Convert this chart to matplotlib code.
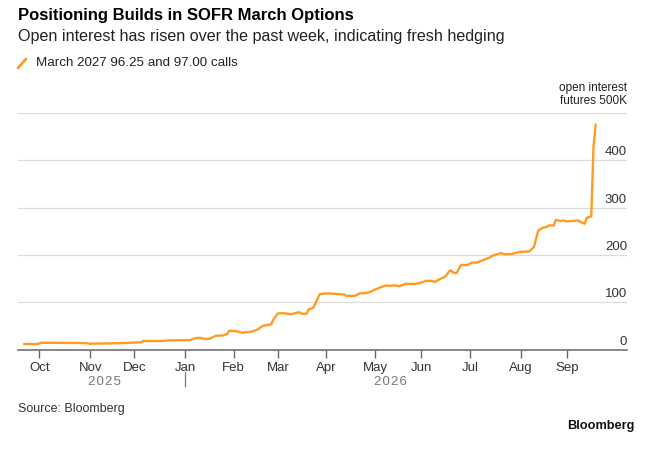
import numpy as np
import matplotlib
matplotlib.use("Agg")
import matplotlib.pyplot as plt
import matplotlib.transforms as mtransforms
from matplotlib.lines import Line2D

plt.rcParams["font.family"] = ["Liberation Sans", "DejaVu Sans"]

# Open interest, March 2027 96.25 and 97.00 calls (thousands of futures)
dates = [
    "2025-09-22", "2025-09-30", "2025-10-02", "2025-10-30", "2025-11-03",
    "2025-11-25", "2025-11-27", "2025-12-04", "2025-12-05", "2025-12-17",
    "2025-12-23", "2026-01-05", "2026-01-06", "2026-01-08", "2026-01-12",
    "2026-01-14", "2026-01-16", "2026-01-21", "2026-01-26", "2026-01-28",
    "2026-01-29", "2026-02-03", "2026-02-06", "2026-02-09", "2026-02-11",
    "2026-02-13", "2026-02-17", "2026-02-19", "2026-02-23", "2026-02-25",
    "2026-02-26", "2026-03-02", "2026-03-05", "2026-03-10", "2026-03-13",
    "2026-03-16", "2026-03-17", "2026-03-19", "2026-03-20", "2026-03-24",
    "2026-03-25", "2026-03-27", "2026-03-31", "2026-04-03", "2026-04-13",
    "2026-04-14", "2026-04-20", "2026-04-22", "2026-04-27", "2026-04-29",
    "2026-05-01", "2026-05-06", "2026-05-08", "2026-05-12", "2026-05-14",
    "2026-05-18", "2026-05-21", "2026-05-27", "2026-05-29", "2026-06-03",
    "2026-06-08", "2026-06-09", "2026-06-11", "2026-06-16", "2026-06-18",
    "2026-06-22", "2026-06-23", "2026-06-25", "2026-06-30", "2026-07-02",
    "2026-07-06", "2026-07-10", "2026-07-14", "2026-07-15", "2026-07-21",
    "2026-07-23", "2026-07-28", "2026-07-31", "2026-08-07", "2026-08-11",
    "2026-08-13", "2026-08-17", "2026-08-18", "2026-08-20", "2026-08-24",
    "2026-08-25", "2026-08-27", "2026-08-28", "2026-09-01", "2026-09-08",
    "2026-09-10", "2026-09-11", "2026-09-14", "2026-09-16", "2026-09-17",
    "2026-09-18",
]
open_interest = [
    12, 12, 14.7, 14, 12.6,
    14, 14.7, 15.5, 18.3, 18.3,
    19.8, 20, 21.9, 24.6, 24.8,
    22.5, 23, 29.5, 30, 33,
    40, 39.3, 35.8, 36.6, 37,
    39.4, 43, 50, 52, 53.5,
    64, 76.6, 77, 74.5, 78.7,
    78.7, 75.8, 76, 85, 88.4,
    97.7, 117.3, 118.7, 118.7, 116.6,
    113.7, 113.7, 119, 119.5, 122.5,
    127, 132.6, 135.6, 135, 136,
    134, 139, 139, 140.4, 145.3,
    145.3, 143, 148, 155, 167.8,
    162, 162, 179, 179, 184,
    184, 191, 194.5, 198, 204,
    201.5, 202, 206, 207.8, 216.8,
    252, 257.7, 258, 262.5, 262.5,
    274.5, 271.6, 273, 271, 273,
    268, 266, 278.7, 281.5, 428,
    476,
]

month_starts = ["2025-10-01", "2025-11-01", "2025-12-01", "2026-01-01",
                "2026-02-01", "2026-03-01", "2026-04-01", "2026-05-01",
                "2026-06-01", "2026-07-01", "2026-08-01", "2026-09-01"]
month_labels = ["Oct", "Nov", "Dec", "Jan", "Feb", "Mar", "Apr", "May",
                "Jun", "Jul", "Aug", "Sep"]
year_labels = ["2025", "2026"]
y_ticks = [0, 100, 200, 300, 400]

ORANGE = "#FF9B21"
BASE = "2025-10-01"


def bday_pos(d):
    """Position on a trading-day axis (weekends removed)."""
    return int(np.busday_count(BASE, d))


x = [bday_pos(d) for d in dates]
month_pos = [bday_pos(np.busday_offset(m, 0, roll="forward")) for m in month_starts]
jan_pos = month_pos[3]

fig = plt.figure(figsize=(6.55, 4.5), dpi=100)
ax = fig.add_axes([0.0275, 0.2229, 0.9298, 0.5260])

ax.plot(x, open_interest, color=ORANGE, linewidth=1.7, solid_joinstyle="round",
        solid_capstyle="round", zorder=3)

ax.set_xlim(-9.7, 266.2)
ax.set_ylim(0, 500)

# grid lines
for v in [100, 200, 300, 400, 500]:
    ax.axhline(v, color="#dcdcdc", linewidth=0.9, zorder=1)

for s in ["top", "right", "left"]:
    ax.spines[s].set_visible(False)
ax.spines["bottom"].set_color("#666666")
ax.spines["bottom"].set_linewidth(1.1)
ax.spines["bottom"].set_zorder(4)

ax.set_yticks([])
ax.set_xticks(month_pos)
ax.set_xticklabels(month_labels)
ax.tick_params(axis="x", length=6, width=1, color="#666666", pad=2.5,
               labelsize=9.5, labelcolor="#333333")

# y labels sitting above the grid lines, right aligned
for v in y_ticks:
    ax.annotate(str(v), xy=(1.0, v), xycoords=("axes fraction", "data"),
                xytext=(0, 5), textcoords="offset pixels",
                ha="right", va="baseline", fontsize=9.5, color="#333333")
ax.annotate("open interest\nfutures 500K", xy=(1.0, 500),
            xycoords=("axes fraction", "data"), xytext=(0, 6),
            textcoords="offset pixels", ha="right", va="bottom",
            fontsize=8.5, color="#222222", linespacing=1.15)

# year labels centred on the data span of each year
trans = mtransforms.blended_transform_factory(ax.transData, ax.transAxes)
ax.text((x[0] + jan_pos) / 2, -0.135, "\u200a".join(year_labels[0]), transform=trans,
        ha="center", va="center", fontsize=9.5, color="#777777")
ax.text((jan_pos + x[-1]) / 2, -0.135, "\u200a".join(year_labels[1]), transform=trans,
        ha="center", va="center", fontsize=9.5, color="#777777")
ax.add_line(Line2D([jan_pos, jan_pos], [-0.095, -0.155], transform=trans,
                   color="#777777", linewidth=0.9, clip_on=False))

# header
fig.text(0.0275, 0.966, "Positioning Builds in SOFR March Options",
         fontsize=12, fontweight="bold", color="#000000", va="center")
fig.text(0.0275, 0.920, "Open interest has risen over the past week, indicating fresh hedging",
         fontsize=11.6, color="#222222", va="center")
fig.add_artist(Line2D([18 / 655, 26 / 655], [1 - 68 / 450, 1 - 59 / 450],
                      color=ORANGE, linewidth=2, solid_capstyle="round"))
fig.text(36 / 655, 1 - 63 / 450, "March 2027 96.25 and 97.00 calls",
         fontsize=9.6, color="#222222", va="center")

# footer
fig.text(0.0275, 1 - 409 / 450, "Source: Bloomberg", fontsize=9,
         color="#333333", va="center")
fig.text(634 / 655, 1 - 426 / 450, "Bloomberg", fontsize=9.2,
         fontweight="bold", color="#111111", va="center", ha="right")

fig.savefig("out.png", dpi=100)
